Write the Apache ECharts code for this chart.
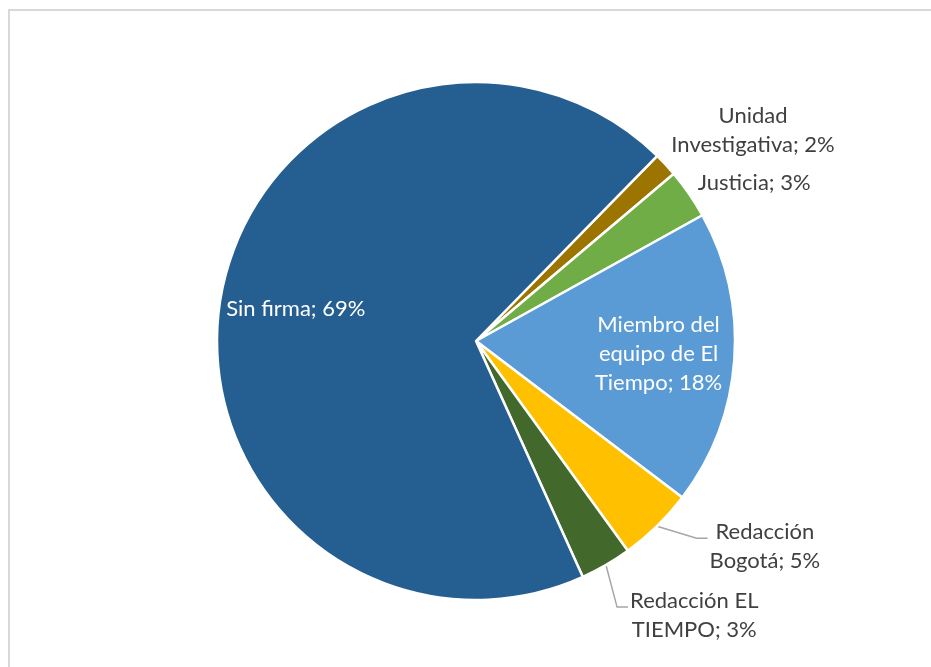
<!DOCTYPE html>
<html>
<head>
<meta charset="utf-8">
<script src="https://cdn.jsdelivr.net/npm/echarts@6/dist/echarts.min.js"></script>
<style>
html,body{margin:0;padding:0;background:#fff;}
#chart{width:931px;height:667px;}
</style>
</head>
<body>
<div id="chart"></div>
<script>
// ---- data ----
var categories = ['Unidad Investigativa', 'Justicia', 'Miembro del equipo de El Tiempo', 'Redacción Bogotá', 'Redacción EL TIEMPO', 'Sin firma'];
var labelNames = ['Unidad\nInvestigativa', 'Justicia', 'Miembro del\nequipo de El\nTiempo', 'Redacción\nBogotá', 'Redacción EL\nTIEMPO', 'Sin firma'];
var values = [1.5, 3.1, 18.4, 4.7, 3.2, 69.1];
var colors = ['#9C7500', '#70AD47', '#5B9BD5', '#FFC000', '#43682B', '#255E91'];
var insideLabel = [false, false, true, false, false, true];

// label placement styling (line lengths / distance) per slice
var lineLen = [50, 19, 10, 28, 58, 10];
var lineLen2 = [1, 1, 1, 28, 1, 1];
var labelDist = [-32, -8, 5, 5, -6, 5];
var lineShow = [false, false, false, true, true, false];

var FONT = 'Lato';
var FS = 22;
var LH = 29;

function fmt(i) {
  return labelNames[i] + '; ' + Math.round(values[i]) + '%';
}

var mainData = categories.map(function (c, i) {
  return {
    name: c,
    value: values[i],
    itemStyle: { color: colors[i] },
    label: {
      show: !insideLabel[i],
      distanceToLabelLine: labelDist[i]
    },
    labelLine: {
      show: lineShow[i],
      length: lineLen[i],
      length2: lineLen2[i]
    }
  };
});

var overlayData = categories.map(function (c, i) {
  return {
    name: c,
    value: values[i],
    label: { show: insideLabel[i] }
  };
});

var chart = echarts.init(document.getElementById('chart'), null, { renderer: 'canvas' });
var option = {
  animation: false,
  backgroundColor: '#ffffff',
  graphic: [{
    type: 'rect',
    shape: { x: 9, y: 10, width: 960, height: 700 },
    style: { fill: 'none', stroke: '#d9d9d9', lineWidth: 2 },
    silent: true,
    z: -1
  }],
  series: [{
    type: 'pie',
    center: [476, 341],
    radius: [0, 259],
    startAngle: 45.6,
    clockwise: true,
    avoidLabelOverlap: false,
    data: mainData,
    itemStyle: { borderColor: '#ffffff', borderWidth: 2.5 },
    label: {
      position: 'outside',
      formatter: function (p) { return fmt(p.dataIndex); },
      color: '#404040',
      fontFamily: FONT,
      fontSize: FS,
      lineHeight: LH
    },
    labelLine: {
      lineStyle: { color: '#a6a6a6', width: 1.5 },
      smooth: false
    },
    labelLayout: function (p) {
      var r = p.labelRect;
      var pts = p.labelLinePoints;
      if (pts && lineShow[p.dataIndex]) {
        var ex = r.x - 2;
        var ey = r.y + r.height * 0.36;
        pts = [pts[0], [ex - 11, ey], [ex, ey]];
      }
      return {
        x: r.x + r.width / 2,
        align: 'center',
        labelLinePoints: pts
      };
    },
    emphasis: { disabled: true }
  }, {
    type: 'pie',
    center: [476, 341],
    radius: [101, 259],
    startAngle: 45.6,
    clockwise: true,
    avoidLabelOverlap: false,
    silent: true,
    data: overlayData,
    itemStyle: { color: 'rgba(0,0,0,0)', borderWidth: 0 },
    label: {
      position: 'inside',
      formatter: function (p) { return fmt(p.dataIndex); },
      color: '#ffffff',
      fontFamily: FONT,
      fontSize: FS,
      lineHeight: LH,
      align: 'center'
    },
    labelLine: { show: false },
    emphasis: { disabled: true }
  }]
};
chart.setOption(option);
</script>
</body>
</html>
